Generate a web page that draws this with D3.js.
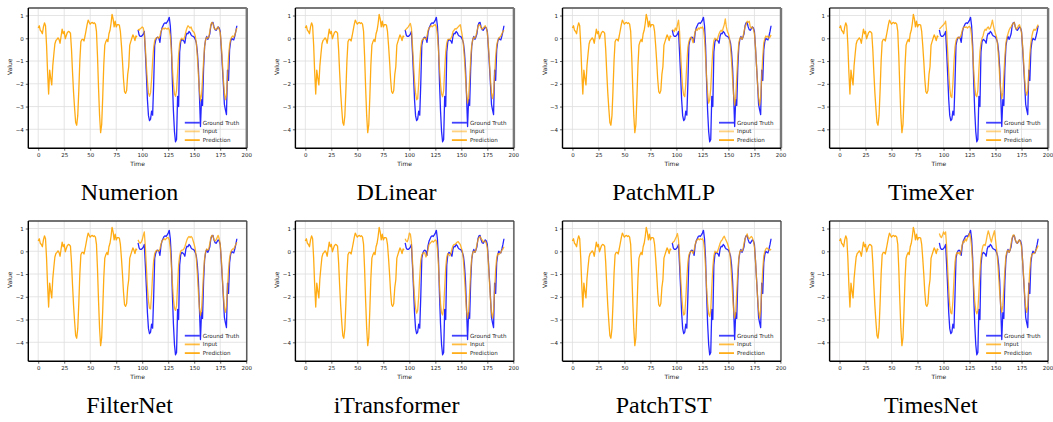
<!DOCTYPE html>
<html><head><meta charset="utf-8">
<script src="https://cdn.jsdelivr.net/npm/d3@7"></script>
<style>body{margin:0;background:#fff}svg{display:block}</style>
</head><body><svg id="c" width="1053" height="422"></svg>
<script>
const models = ["Numerion","DLinear","PatchMLP","TimeXer","FilterNet","iTransformer","PatchTST","TimesNet"];
const xTicks = [0,25,50,75,100,125,150,175,200];
const yTicks = [-4,-3,-2,-1,0,1];
const legendLabels = ["Ground Truth","Input","Prediction"];

// Input window, t = 0..95
const inputVals = [0.45,0.55,0.35,0.3,0.2,0.5,0.68,0.55,-0.3,-1.5,
-2.45,-1.4,-1.75,-2.05,-1.2,-0.7,-0.25,-0.1,-0.05,0.02,
-0.05,-0.22,0.1,0.4,0.2,0.3,-0.02,0.12,0.25,0.3,
0.28,0.22,-0.5,-1.5,-2.4,-3.1,-3.7,-3.82,-3.4,-2.3,
-1.0,-0.15,-0.05,-0.05,-0.12,0.1,0.35,0.6,0.8,0.7,
0.62,0.68,0.7,0.65,0.68,0.62,0.3,-0.8,-2.2,-3.4,
-4.15,-3.8,-2.6,-1.2,-0.3,-0.15,-0.05,-0.15,0.2,0.35,
0.65,1.05,0.85,0.5,0.75,0.5,0.6,0.6,0.58,0.3,
-0.3,-1.0,-1.8,-2.35,-2.42,-2.3,-1.6,-1.25,-0.3,-0.15,
0.0,0.15,0.05,-0.1,0.1,0.05];

// Ground truth, t = 96..191
const truthVals = [0.37,0.15,0.08,0.08,0.12,0.18,0.3,-0.6,-1.6,-2.7,
-3.4,-3.62,-3.55,-3.2,-3.38,-2.0,-0.3,-0.08,0.02,0.05,
0.0,-0.18,0.25,0.45,0.55,0.65,0.68,0.65,0.72,0.8,
0.92,0.55,-0.3,-1.9,-3.2,-4.1,-4.55,-4.45,-2.55,-3.0,
-0.6,-0.15,-0.05,-0.08,-0.12,-0.22,0.1,0.22,0.2,0.3,
0.25,0.15,0.1,0.08,0.05,-0.05,-0.2,-0.6,-1.3,-2.5,
-3.88,-2.7,-2.95,-1.3,-0.35,-0.05,0.08,-0.05,0.05,0.2,
0.55,0.68,0.7,0.5,0.38,0.35,0.42,0.5,0.45,0.3,
-0.4,-1.2,-2.0,-2.9,-3.15,-3.35,-1.4,-1.85,-0.5,-0.15,
0.0,-0.05,-0.07,0.1,0.3,0.55];

// Predictions, t = 96..191
const predNumerion = [0.4,0.35,0.42,0.45,0.5,0.45,0.2,-0.4,-1.2,-1.9,
-2.4,-2.55,-2.4,-1.8,-1.0,-0.4,-0.1,0.0,0.02,0.05,
0.0,0.1,0.3,0.4,0.45,0.4,0.45,0.42,0.4,0.45,
0.38,0.1,-0.5,-1.3,-2.0,-2.45,-2.55,-2.3,-1.5,-0.7,
-0.25,-0.05,0.0,-0.05,-0.05,0.1,0.3,0.45,0.55,0.5,
0.45,0.5,0.35,0.3,0.25,0.1,-0.2,-0.8,-1.6,-2.3,
-2.75,-2.5,-1.8,-1.0,-0.35,-0.05,0.05,0.0,0.05,0.3,
0.6,0.7,0.65,0.45,0.4,0.38,0.45,0.5,0.4,0.25,
-0.3,-1.0,-1.8,-2.4,-2.7,-2.5,-1.7,-0.8,-0.3,-0.05,
0.05,0.1,0.05,0.15,0.3,0.45];
const predDLinear = [0.35,0.4,0.45,0.5,0.58,0.65,0.45,-0.3,-1.1,-1.9,
-2.4,-2.7,-2.65,-2.0,-1.1,-0.4,-0.1,-0.05,0.0,0.0,
-0.05,0.1,0.35,0.45,0.5,0.55,0.5,0.55,0.58,0.6,
0.5,0.15,-0.5,-1.3,-2.0,-2.45,-2.57,-2.3,-1.4,-0.6,
-0.2,-0.05,-0.05,-0.05,0.0,0.1,0.3,0.35,0.42,0.4,
0.45,0.5,0.55,0.6,0.35,0.1,-0.3,-0.9,-1.7,-2.4,
-2.85,-2.6,-1.8,-0.9,-0.3,-0.05,0.05,0.0,0.1,0.3,
0.5,0.6,0.58,0.45,0.4,0.45,0.5,0.55,0.45,0.25,
-0.3,-1.0,-1.8,-2.4,-2.65,-2.4,-1.6,-0.8,-0.3,-0.1,
0.0,0.05,0.1,0.2,0.3,0.35];
const predPatchMLP = [0.37,0.35,0.3,0.45,0.35,0.6,0.8,0.3,-0.6,-1.5,
-2.2,-2.5,-2.57,-2.0,-1.1,-0.4,-0.15,0.0,0.05,-0.05,
-0.2,0.05,0.3,0.4,0.35,0.45,0.4,0.48,0.45,0.5,
0.4,0.0,-0.8,-1.7,-2.4,-2.85,-2.7,-2.2,-1.3,-0.5,
-0.1,0.0,-0.05,-0.1,0.05,0.2,0.3,0.35,0.3,0.45,
0.6,0.85,0.5,0.3,0.2,0.0,-0.4,-1.0,-1.8,-2.5,
-2.94,-2.6,-1.7,-0.8,-0.2,0.0,0.05,-0.05,0.05,0.3,
0.5,0.6,0.75,0.7,0.75,0.5,0.45,0.5,0.4,0.2,
-0.4,-1.2,-2.0,-2.6,-2.94,-2.6,-1.7,-0.8,-0.2,0.0,
0.1,0.05,0.1,0.0,0.05,0.15];
const predTimeXer = [0.4,0.45,0.5,0.55,0.6,0.65,0.75,0.3,-0.6,-1.5,
-2.2,-2.55,-2.6,-2.0,-1.1,-0.4,-0.1,0.0,0.05,0.0,
0.05,0.15,0.35,0.45,0.5,0.48,0.5,0.45,0.5,0.52,
0.45,0.1,-0.6,-1.4,-2.1,-2.5,-2.57,-2.3,-1.4,-0.6,
-0.2,0.0,0.1,0.3,0.4,0.35,0.45,0.5,0.4,0.45,
0.6,0.8,0.55,0.35,0.2,0.05,-0.3,-0.9,-1.7,-2.3,
-2.65,-2.4,-1.6,-0.8,-0.2,0.05,0.2,0.35,0.45,0.5,
0.6,0.65,0.7,0.5,0.4,0.45,0.55,0.6,0.45,0.25,
-0.3,-1.0,-1.8,-2.3,-2.5,-2.3,-1.5,-0.7,-0.2,0.1,
0.3,0.4,0.35,0.4,0.5,0.6];
const predFilterNet = [0.5,0.4,0.35,0.4,0.5,0.7,0.85,0.2,-0.7,-1.6,
-2.2,-2.5,-2.53,-1.9,-1.0,-0.4,-0.1,0.0,0.05,0.02,
0.0,0.1,0.3,0.45,0.5,0.55,0.5,0.55,0.6,0.6,
0.5,0.1,-0.6,-1.4,-2.1,-2.5,-2.6,-2.4,-1.5,-0.6,
-0.2,0.0,0.05,0.05,0.1,0.2,0.35,0.5,0.6,0.65,
0.6,0.65,0.6,0.45,0.3,0.1,-0.3,-1.0,-1.8,-2.5,
-2.82,-2.6,-1.8,-0.9,-0.3,0.0,0.1,0.05,0.1,0.35,
0.6,0.7,0.68,0.5,0.45,0.5,0.6,0.7,0.55,0.3,
-0.3,-1.1,-1.9,-2.5,-2.68,-2.4,-1.6,-0.8,-0.3,-0.05,
0.05,0.1,0.1,0.2,0.3,0.4];
const predITransformer = [0.55,0.45,0.42,0.55,0.8,0.75,0.4,-0.4,-1.3,-2.0,
-2.5,-2.72,-2.6,-2.0,-1.1,-0.4,-0.15,-0.1,-0.05,-0.1,
-0.25,-0.15,0.1,0.3,0.35,0.4,0.45,0.4,0.45,0.5,
0.45,0.1,-0.6,-1.5,-2.3,-2.7,-2.8,-2.5,-1.6,-0.7,
-0.25,-0.1,-0.15,-0.2,-0.1,0.1,0.25,0.3,0.3,0.35,
0.4,0.42,0.35,0.3,0.15,0.0,-0.4,-1.1,-1.9,-2.6,
-2.94,-2.7,-1.8,-0.9,-0.3,-0.05,0.0,-0.05,0.05,0.3,
0.5,0.6,0.65,0.55,0.5,0.4,0.45,0.45,0.35,0.15,
-0.5,-1.3,-2.1,-2.7,-2.94,-2.6,-1.7,-0.8,-0.3,-0.1,
-0.15,-0.1,-0.05,0.05,0.1,0.2];
const predPatchTST = [0.37,0.4,0.45,0.55,0.65,0.78,0.5,-0.2,-1.1,-1.9,
-2.5,-2.8,-2.75,-2.1,-1.2,-0.5,-0.15,-0.05,0.0,0.0,
-0.1,0.05,0.3,0.45,0.5,0.55,0.5,0.55,0.52,0.55,
0.45,0.05,-0.7,-1.6,-2.3,-2.75,-2.87,-2.6,-1.6,-0.7,
-0.2,0.0,-0.05,-0.05,0.05,0.2,0.35,0.45,0.5,0.6,
0.66,0.55,0.45,0.35,0.2,0.0,-0.4,-1.1,-1.9,-2.6,
-2.94,-2.7,-1.8,-0.9,-0.3,0.0,0.05,0.0,0.1,0.35,
0.55,0.65,0.76,0.6,0.55,0.6,0.65,0.6,0.45,0.2,
-0.4,-1.2,-2.0,-2.6,-2.94,-2.6,-1.7,-0.8,-0.2,0.0,
0.1,0.15,0.1,0.05,0.05,0.1];
const predTimesNet = [0.78,0.65,0.6,0.7,0.85,0.75,0.85,0.2,-0.8,-1.7,
-2.4,-2.7,-2.75,-2.2,-1.3,-0.5,-0.15,-0.05,-0.1,-0.05,
-0.15,0.0,0.3,0.45,0.4,0.55,0.45,0.6,0.65,0.8,
0.6,0.2,-0.6,-1.5,-2.2,-2.6,-2.75,-2.6,-1.8,-0.9,
-0.3,0.05,0.25,0.3,0.25,0.45,0.7,0.9,0.75,0.55,
0.4,0.6,0.75,0.9,0.5,0.1,-0.4,-1.1,-1.8,-2.4,
-2.68,-2.4,-1.6,-0.8,-0.2,0.0,0.05,-0.05,0.05,0.35,
0.6,0.72,0.7,0.5,0.4,0.35,0.45,0.5,0.4,0.2,
-0.4,-1.1,-1.9,-2.45,-2.68,-2.4,-1.6,-0.8,-0.3,-0.15,
-0.1,-0.1,-0.05,0.05,0.15,0.25];

const preds = [predNumerion,predDLinear,predPatchMLP,predTimeXer,predFilterNet,predITransformer,predPatchTST,predTimesNet];

// ---- layout ----
const svg = d3.select("#c");
const colStep = 267.1, rowStep = 213;
const left0 = 28.3, top0 = 8, plotW = 218.5, plotH = 140.2;
const BLUE = "#0000ff", ORANGE = "#ffa500";

const inputPts = inputVals.map((v,i)=>({t:i,v}));
const truthPts = truthVals.map((v,i)=>({t:i+inputVals.length,v}));
const allT = inputPts.concat(truthPts).map(d=>d.t);
const allV = inputVals.concat(truthVals, ...preds);
const tExt = d3.extent(allT), vExt = d3.extent(allV);
const tPad = (tExt[1]-tExt[0])*0.05, vPad = (vExt[1]-vExt[0])*0.05;

const fontTick = "DejaVu Sans, sans-serif";

models.forEach((name,i)=>{
  const col = i%4, row = Math.floor(i/4);
  const ox = left0 + col*colStep, oy = top0 + row*rowStep;
  const g = svg.append("g").attr("transform",`translate(${ox},${oy})`);
  const x = d3.scaleLinear().domain([tExt[0]-tPad, tExt[1]+tPad]).range([0,plotW]);
  const y = d3.scaleLinear().domain([vExt[0]-vPad, vExt[1]+vPad]).range([plotH,0]);

  // grid
  g.append("g").selectAll("line").data(xTicks).join("line")
    .attr("x1",d=>x(d)).attr("x2",d=>x(d)).attr("y1",0).attr("y2",plotH)
    .attr("stroke","#dedede").attr("stroke-width",0.8);
  g.append("g").selectAll("line").data(yTicks).join("line")
    .attr("y1",d=>y(d)).attr("y2",d=>y(d)).attr("x1",0).attr("x2",plotW)
    .attr("stroke","#dedede").attr("stroke-width",0.8);

  const line = d3.line().x(d=>x(d.t)).y(d=>y(d.v));
  const predPts = preds[i].map((v,k)=>({t:k+inputVals.length,v}));

  g.append("path").datum(inputPts).attr("d",line).attr("fill","none")
    .attr("stroke",ORANGE).attr("stroke-width",1.3).attr("stroke-opacity",0.92).attr("stroke-linejoin","round");
  g.append("path").datum(truthPts).attr("d",line).attr("fill","none")
    .attr("stroke",BLUE).attr("stroke-width",1.3).attr("stroke-opacity",0.85).attr("stroke-linejoin","round");
  g.append("path").datum(predPts).attr("d",line).attr("fill","none")
    .attr("stroke",ORANGE).attr("stroke-width",1.3).attr("stroke-opacity",0.8).attr("stroke-linejoin","round");

  // axes
  const ax = g.append("g").attr("transform",`translate(0,${plotH})`)
    .call(d3.axisBottom(x).tickValues(xTicks).tickSize(2.5).tickPadding(2).tickFormat(d3.format("d")));
  const ay = g.append("g")
    .call(d3.axisLeft(y).tickValues(yTicks).tickSize(2.5).tickPadding(2).tickFormat(d3.format("d")));
  [ax,ay].forEach(a=>{
    a.select(".domain").remove();
    a.selectAll("text").attr("font-family",fontTick).attr("font-size",5.5).attr("fill","#222");
    a.selectAll("line").attr("stroke","#222").attr("stroke-width",0.7);
  });

  // spines
  g.append("line").attr("x1",0).attr("x2",plotW).attr("y1",0).attr("y2",0)
    .attr("stroke",row===0?"#777":"#444").attr("stroke-width",row===0?2:1.3);
  g.append("line").attr("x1",plotW).attr("x2",plotW).attr("y1",0).attr("y2",plotH)
    .attr("stroke",row===0?"#777":"#444").attr("stroke-width",row===0?2.4:1.3);
  g.append("line").attr("x1",0).attr("x2",0).attr("y1",0).attr("y2",plotH)
    .attr("stroke","#000").attr("stroke-width",1.4);
  g.append("line").attr("x1",0).attr("x2",plotW).attr("y1",plotH).attr("y2",plotH)
    .attr("stroke","#000").attr("stroke-width",1.4);

  // axis labels
  g.append("text").attr("x",plotW/2).attr("y",plotH+17.5).attr("text-anchor","middle")
    .attr("font-family",fontTick).attr("font-size",6).attr("fill","#222").text("Time");
  g.append("text").attr("transform",`translate(-16,${y(-1.25)}) rotate(-90)`)
    .attr("text-anchor","middle").attr("font-family",fontTick).attr("font-size",6).attr("fill","#222").text("Value");

  // legend
  const legColors = [[BLUE,0.75],[ORANGE,row===0?0.5:0.75],[ORANGE,0.9]];
  const lg = g.append("g").attr("transform",`translate(${plotW-62},${plotH-25.5})`);
  legendLabels.forEach((lab,k)=>{
    lg.append("line").attr("x1",0).attr("x2",15).attr("y1",k*8.7).attr("y2",k*8.7)
      .attr("stroke",legColors[k][0]).attr("stroke-opacity",legColors[k][1]).attr("stroke-width",1.8);
    lg.append("text").attr("x",18).attr("y",k*8.7+2).attr("font-family",fontTick)
      .attr("font-size",5.6).attr("fill","#222").text(lab);
  });

  // title
  svg.append("text").attr("x",129.5+col*colStep).attr("y",199.5+row*rowStep)
    .attr("text-anchor","middle").attr("font-family","Liberation Serif, Times New Roman, serif")
    .attr("font-size",24).attr("fill","#000").text(name);
});
</script>
</body></html>
